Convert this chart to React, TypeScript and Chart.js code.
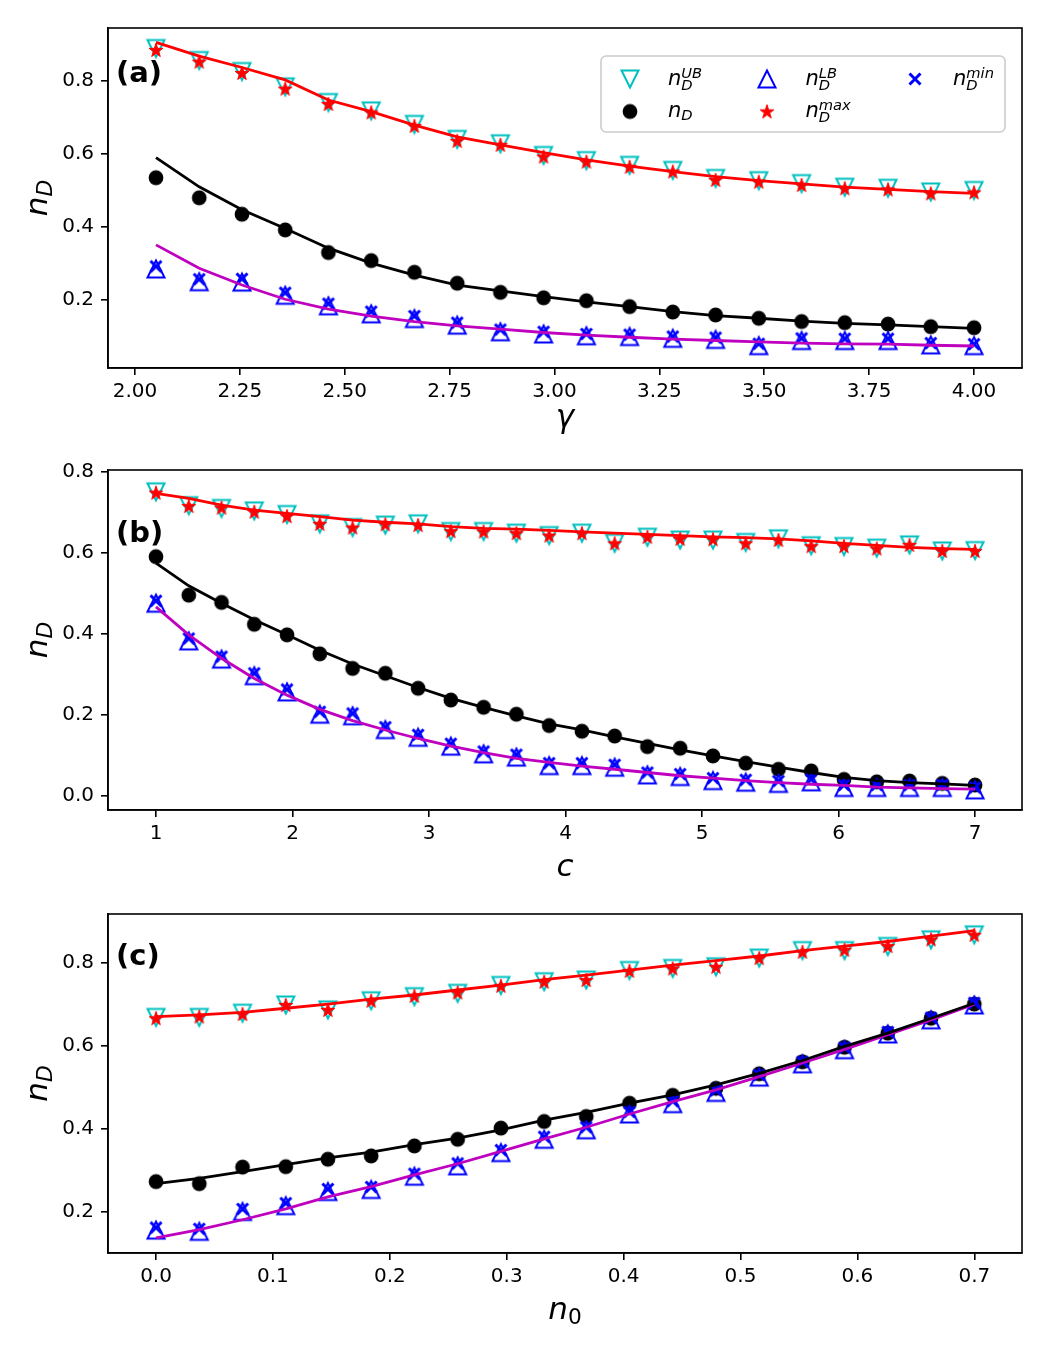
import React, { useEffect, useRef } from 'react';
import { Chart, registerables } from 'chart.js';

Chart.register(...registerables);

const FONT = '"DejaVu Sans", sans-serif';

// ---------- Panel (a): x = gamma ----------
const gammaVals = [2.050, 2.153, 2.255, 2.358, 2.461, 2.563, 2.666, 2.768, 2.871, 2.974, 3.076, 3.179, 3.282, 3.384, 3.487, 3.589, 3.692, 3.795, 3.897, 4.000];
const aUB = [0.889, 0.856, 0.826, 0.784, 0.741, 0.718, 0.681, 0.640, 0.628, 0.596, 0.582, 0.569, 0.555, 0.533, 0.527, 0.519, 0.509, 0.506, 0.496, 0.500];
const aND = [0.535, 0.480, 0.435, 0.392, 0.330, 0.308, 0.276, 0.246, 0.221, 0.206, 0.198, 0.182, 0.167, 0.159, 0.150, 0.141, 0.138, 0.134, 0.127, 0.124];
const aLB = [0.285, 0.250, 0.249, 0.213, 0.184, 0.162, 0.149, 0.131, 0.113, 0.107, 0.102, 0.100, 0.095, 0.092, 0.075, 0.089, 0.089, 0.089, 0.077, 0.075];
const aMax = [0.885, 0.853, 0.822, 0.779, 0.737, 0.714, 0.677, 0.636, 0.625, 0.593, 0.579, 0.565, 0.552, 0.529, 0.524, 0.515, 0.506, 0.503, 0.492, 0.495];
const aMin = [0.292, 0.257, 0.258, 0.220, 0.190, 0.168, 0.156, 0.138, 0.119, 0.113, 0.107, 0.105, 0.100, 0.097, 0.080, 0.095, 0.094, 0.094, 0.082, 0.079];
const aLineMax = [0.906, 0.868, 0.837, 0.803, 0.748, 0.716, 0.679, 0.647, 0.625, 0.604, 0.584, 0.567, 0.552, 0.538, 0.527, 0.518, 0.509, 0.503, 0.497, 0.492];
const aLineND = [0.590, 0.510, 0.447, 0.396, 0.342, 0.301, 0.268, 0.241, 0.225, 0.209, 0.195, 0.182, 0.168, 0.157, 0.150, 0.142, 0.136, 0.132, 0.127, 0.122];
const aLineMin = [0.351, 0.287, 0.241, 0.202, 0.175, 0.156, 0.141, 0.129, 0.120, 0.111, 0.104, 0.098, 0.093, 0.089, 0.085, 0.082, 0.080, 0.079, 0.076, 0.074];
const aXTicks = [2.0, 2.25, 2.5, 2.75, 3.0, 3.25, 3.5, 3.75, 4.0];
const aYTicks = [0.2, 0.4, 0.6, 0.8];

// ---------- Panel (b): x = c ----------
const cVals = [1.00, 1.24, 1.48, 1.72, 1.96, 2.20, 2.44, 2.68, 2.92, 3.16, 3.40, 3.64, 3.88, 4.12, 4.36, 4.60, 4.84, 5.08, 5.32, 5.56, 5.80, 6.04, 6.28, 6.52, 6.76, 7.00];
const bUB = [0.751, 0.717, 0.710, 0.704, 0.695, 0.672, 0.663, 0.669, 0.672, 0.653, 0.653, 0.649, 0.643, 0.649, 0.624, 0.639, 0.632, 0.632, 0.626, 0.635, 0.618, 0.616, 0.612, 0.620, 0.605, 0.606];
const bND = [0.591, 0.496, 0.478, 0.424, 0.398, 0.351, 0.315, 0.303, 0.266, 0.237, 0.219, 0.202, 0.174, 0.160, 0.148, 0.122, 0.118, 0.099, 0.081, 0.066, 0.062, 0.041, 0.035, 0.037, 0.031, 0.027];
const bLB = [0.476, 0.383, 0.338, 0.297, 0.257, 0.202, 0.198, 0.164, 0.145, 0.123, 0.104, 0.096, 0.075, 0.075, 0.071, 0.052, 0.048, 0.038, 0.034, 0.031, 0.035, 0.021, 0.021, 0.021, 0.021, 0.015];
const bMax = [0.749, 0.716, 0.712, 0.702, 0.691, 0.672, 0.663, 0.671, 0.669, 0.654, 0.653, 0.649, 0.643, 0.649, 0.624, 0.640, 0.635, 0.634, 0.624, 0.632, 0.617, 0.617, 0.611, 0.620, 0.605, 0.605];
const bMin = [0.482, 0.389, 0.344, 0.303, 0.263, 0.208, 0.204, 0.170, 0.151, 0.129, 0.110, 0.102, 0.081, 0.081, 0.077, 0.058, 0.054, 0.044, 0.040, 0.037, 0.041, 0.027, 0.027, 0.027, 0.027, 0.021];
const bLineMax = [0.747, 0.735, 0.718, 0.706, 0.698, 0.690, 0.681, 0.676, 0.672, 0.665, 0.661, 0.659, 0.656, 0.652, 0.649, 0.646, 0.643, 0.640, 0.638, 0.635, 0.630, 0.624, 0.619, 0.614, 0.611, 0.609];
const bLineND = [0.575, 0.519, 0.476, 0.435, 0.398, 0.360, 0.326, 0.297, 0.268, 0.241, 0.219, 0.198, 0.178, 0.163, 0.146, 0.130, 0.114, 0.099, 0.085, 0.071, 0.058, 0.046, 0.038, 0.033, 0.030, 0.026];
const bLineMin = [0.467, 0.398, 0.340, 0.290, 0.249, 0.214, 0.186, 0.163, 0.142, 0.123, 0.107, 0.093, 0.083, 0.074, 0.066, 0.058, 0.050, 0.044, 0.038, 0.033, 0.029, 0.026, 0.022, 0.020, 0.018, 0.017];
const bXTicks = [1, 2, 3, 4, 5, 6, 7];
const bYTicks = [0.0, 0.2, 0.4, 0.6, 0.8];

// ---------- Panel (c): x = n0 ----------
const n0Vals = [0.000, 0.037, 0.074, 0.111, 0.147, 0.184, 0.221, 0.258, 0.295, 0.332, 0.368, 0.405, 0.442, 0.479, 0.516, 0.553, 0.589, 0.626, 0.663, 0.700];
const cUB = [0.668, 0.668, 0.678, 0.698, 0.686, 0.708, 0.718, 0.726, 0.745, 0.754, 0.758, 0.781, 0.786, 0.790, 0.811, 0.829, 0.829, 0.839, 0.855, 0.867];
const cND = [0.272, 0.267, 0.307, 0.308, 0.326, 0.334, 0.358, 0.374, 0.401, 0.417, 0.429, 0.461, 0.480, 0.497, 0.532, 0.561, 0.596, 0.630, 0.666, 0.700];
const cLB = [0.155, 0.152, 0.200, 0.214, 0.248, 0.253, 0.285, 0.310, 0.342, 0.374, 0.397, 0.435, 0.460, 0.487, 0.524, 0.556, 0.590, 0.628, 0.662, 0.698];
const cMax = [0.666, 0.670, 0.676, 0.698, 0.686, 0.708, 0.720, 0.728, 0.744, 0.754, 0.758, 0.780, 0.786, 0.790, 0.811, 0.826, 0.831, 0.840, 0.856, 0.867];
const cMin = [0.161, 0.158, 0.206, 0.220, 0.254, 0.259, 0.291, 0.316, 0.348, 0.380, 0.403, 0.440, 0.466, 0.492, 0.529, 0.561, 0.595, 0.633, 0.667, 0.703];
const cLineMax = [0.670, 0.674, 0.680, 0.690, 0.700, 0.712, 0.722, 0.734, 0.746, 0.759, 0.770, 0.782, 0.794, 0.805, 0.816, 0.829, 0.840, 0.851, 0.864, 0.877];
const cLineND = [0.267, 0.280, 0.296, 0.313, 0.329, 0.343, 0.361, 0.377, 0.397, 0.420, 0.439, 0.461, 0.481, 0.505, 0.533, 0.564, 0.598, 0.630, 0.666, 0.702];
const cLineMin = [0.136, 0.156, 0.180, 0.206, 0.235, 0.260, 0.288, 0.315, 0.345, 0.375, 0.403, 0.435, 0.465, 0.493, 0.525, 0.558, 0.591, 0.626, 0.662, 0.700];
const cXTicks = [0.0, 0.1, 0.2, 0.3, 0.4, 0.5, 0.6, 0.7];
const cYTicks = [0.2, 0.4, 0.6, 0.8];

// legend entries (column-major like matplotlib ncol=3)
const legendSubs = ['D', 'D', 'D', 'D', 'D'];
const legendSups = ['UB', 'LB', 'min', '', 'max'];
const legendKinds = ['tdown', 'tup', 'x', 'circle', 'star'];

type Markers = Record<string, HTMLCanvasElement>;

function makeMarkers(): Markers {
  const mk = (w: number, h: number, draw: (ctx: CanvasRenderingContext2D, cx: number, cy: number) => void) => {
    const c = document.createElement('canvas');
    c.width = w; c.height = h;
    const ctx = c.getContext('2d')!;
    draw(ctx, w / 2, h / 2);
    return c;
  };
  const tdown = mk(24, 24, (ctx, cx, cy) => {
    ctx.strokeStyle = '#00bfbf'; ctx.lineWidth = 2; ctx.lineJoin = 'miter';
    ctx.beginPath();
    ctx.moveTo(cx - 8.5, cy - 8.5); ctx.lineTo(cx + 8.5, cy - 8.5); ctx.lineTo(cx, cy + 8.5); ctx.closePath();
    ctx.stroke();
  });
  const tup = mk(24, 24, (ctx, cx, cy) => {
    ctx.strokeStyle = '#0000ff'; ctx.lineWidth = 2; ctx.lineJoin = 'miter';
    ctx.beginPath();
    ctx.moveTo(cx - 8.5, cy + 8.5); ctx.lineTo(cx + 8.5, cy + 8.5); ctx.lineTo(cx, cy - 8.5); ctx.closePath();
    ctx.stroke();
  });
  const star = mk(22, 22, (ctx, cx, cy) => {
    ctx.fillStyle = '#ff0000'; ctx.strokeStyle = '#ff0000'; ctx.lineWidth = 1;
    const R = 7.3, r = R * 0.381966;
    ctx.beginPath();
    for (let i = 0; i < 10; i++) {
      const ang = -Math.PI / 2 + i * Math.PI / 5;
      const rr = i % 2 === 0 ? R : r;
      const px = cx + rr * Math.cos(ang), py = cy + 0.6 + rr * Math.sin(ang);
      if (i === 0) ctx.moveTo(px, py); else ctx.lineTo(px, py);
    }
    ctx.closePath(); ctx.fill(); ctx.stroke();
  });
  const x = mk(20, 20, (ctx, cx, cy) => {
    ctx.strokeStyle = '#0000ff'; ctx.lineWidth = 3; ctx.lineCap = 'butt';
    ctx.beginPath();
    ctx.moveTo(cx - 5.5, cy - 5.5); ctx.lineTo(cx + 5.5, cy + 5.5);
    ctx.moveTo(cx + 5.5, cy - 5.5); ctx.lineTo(cx - 5.5, cy + 5.5);
    ctx.stroke();
  });
  const circle = mk(18, 18, (ctx, cx, cy) => {
    ctx.fillStyle = '#000000';
    ctx.beginPath(); ctx.arc(cx, cy, 7.4, 0, Math.PI * 2); ctx.fill();
  });
  return { tdown, tup, star, x, circle };
}

function drawMath(ctx: CanvasRenderingContext2D, x: number, y: number, main: string, sub: string, sup: string, fs: number, subUpright = false, measureOnly = false): number {
  ctx.font = `italic ${fs}px ${FONT}`;
  const w = ctx.measureText(main).width;
  if (!measureOnly) ctx.fillText(main, x, y);
  const sfs = fs * 0.7;
  let w2 = 0;
  if (sub) {
    ctx.font = `${subUpright ? '' : 'italic '}${sfs}px ${FONT}`;
    const off = sup ? fs * 0.24 : fs * 0.17;
    if (!measureOnly) ctx.fillText(sub, x + w, y + off);
    w2 = Math.max(w2, ctx.measureText(sub).width);
  }
  if (sup) {
    ctx.font = `italic ${sfs}px ${FONT}`;
    if (!measureOnly) ctx.fillText(sup, x + w, y - fs * 0.32);
    w2 = Math.max(w2, ctx.measureText(sup).width);
  }
  return w + w2;
}

interface Panel {
  key: string;
  height: number;
  top: number;
  xs: number[];
  ub: number[]; nd: number[]; lb: number[]; mx: number[]; mn: number[];
  lMax: number[]; lND: number[]; lMin: number[];
  xMin: number; xMax: number; yMin: number; yMax: number;
  xTicks: number[]; yTicks: number[]; xDec: number;
  label: string; labelBaseline: number;
  xTitle: string; xTitleSub: string; xTitleBaseline: number;
  legend: boolean;
}

const panels: Panel[] = [
  {
    key: 'a', height: 450, top: 28, xs: gammaVals,
    ub: aUB, nd: aND, lb: aLB, mx: aMax, mn: aMin, lMax: aLineMax, lND: aLineND, lMin: aLineMin,
    xMin: 1.9356, xMax: 4.1144, yMin: 0.0137, yMax: 0.9452,
    xTicks: aXTicks, yTicks: aYTicks, xDec: 2,
    label: '(a)', labelBaseline: 81.5, xTitle: 'γ', xTitleSub: '', xTitleBaseline: 427, legend: true,
  },
  {
    key: 'b', height: 440, top: 20, xs: cVals,
    ub: bUB, nd: bND, lb: bLB, mx: bMax, mn: bMin, lMax: bLineMax, lND: bLineND, lMin: bLineMin,
    xMin: 0.6484, xMax: 7.344, yMin: -0.0346, yMax: 0.805,
    xTicks: bXTicks, yTicks: bYTicks, xDec: 0,
    label: '(b)', labelBaseline: 91.5, xTitle: 'c', xTitleSub: '', xTitleBaseline: 426, legend: false,
  },
  {
    key: 'c', height: 460, top: 24, xs: n0Vals,
    ub: cUB, nd: cND, lb: cLB, mx: cMax, mn: cMin, lMax: cLineMax, lND: cLineND, lMin: cLineMin,
    xMin: -0.0411, xMax: 0.7408, yMin: 0.0998, yMax: 0.9173,
    xTicks: cXTicks, yTicks: cYTicks, xDec: 1,
    label: '(c)', labelBaseline: 75, xTitle: 'n', xTitleSub: '0', xTitleBaseline: 429, legend: false,
  },
];

const AREA_BOTTOM: Record<string, number> = { a: 368, b: 360, c: 363 };

function pts(xs: number[], ys: number[]) {
  return xs.map((x, i) => ({ x, y: ys[i] }));
}

function buildConfig(p: Panel, m: Markers): any {
  const lineDs = (ys: number[], color: string) => ({
    data: pts(p.xs, ys), showLine: true, borderColor: color, borderWidth: 2.8,
    pointRadius: 0, pointHoverRadius: 0, tension: 0, fill: false, order: 0,
  });
  const ptDs = (ys: number[], style: HTMLCanvasElement, order: number) => ({
    data: pts(p.xs, ys), showLine: false, pointStyle: style, pointRadius: 8,
    pointHoverRadius: 8, order,
  });
  const textPlugin = {
    id: 'txt' + p.key,
    afterDraw(chart: any) {
      const ctx: CanvasRenderingContext2D = chart.ctx;
      const a = chart.chartArea;
      ctx.save();
      ctx.strokeStyle = '#000'; ctx.lineWidth = 1.6;
      ctx.strokeRect(a.left, a.top, a.right - a.left, a.bottom - a.top);
      ctx.fillStyle = '#000';
      ctx.textAlign = 'left'; ctx.textBaseline = 'alphabetic';
      ctx.font = `bold 29px ${FONT}`;
      ctx.fillText(p.label, 116, p.labelBaseline);
      // x title
      const cx = (a.left + a.right) / 2;
      const wx = drawMath(ctx, 0, 0, p.xTitle, p.xTitleSub, '', 31, true, true);
      drawMath(ctx, cx - wx / 2, p.xTitleBaseline, p.xTitle, p.xTitleSub, '', 31, true);
      // y title
      const cy = (a.top + a.bottom) / 2;
      ctx.save();
      ctx.translate(47, cy);
      ctx.rotate(-Math.PI / 2);
      const wy = drawMath(ctx, 0, 0, 'n', 'D', '', 31, false, true);
      drawMath(ctx, -wy / 2, 0, 'n', 'D', '', 31, false);
      ctx.restore();
      if (p.legend) {
        ctx.beginPath();
        (ctx as any).roundRect(601, 56, 404, 76, 5);
        ctx.fillStyle = 'rgba(255,255,255,0.8)';
        ctx.fill();
        ctx.strokeStyle = '#cccccc'; ctx.lineWidth = 1.6;
        ctx.stroke();
        const colMx = [630, 767, 915];
        const colTx = [668, 805.5, 953];
        const rowMy = [79, 111.5];
        const rowTy = [85, 116.5];
        ctx.fillStyle = '#000';
        for (let i = 0; i < legendKinds.length; i++) {
          const col = i < 3 ? i : i - 3;
          const row = i < 3 ? 0 : 1;
          const img = m[legendKinds[i]];
          ctx.drawImage(img, colMx[col] - img.width / 2, rowMy[row] - img.height / 2);
          drawMath(ctx, colTx[col], rowTy[row], 'n', legendSubs[i], legendSups[i], 21);
        }
      }
      ctx.restore();
    },
  };
  const bottomH = p.height - AREA_BOTTOM[p.key];
  return {
    type: 'scatter',
    data: {
      datasets: [
        lineDs(p.lMax, '#ff0000'),
        lineDs(p.lND, '#000000'),
        lineDs(p.lMin, '#bf00bf'),
        ptDs(p.mn, m.x, 1),
        ptDs(p.mx, m.star, 2),
        ptDs(p.lb, m.tup, 3),
        ptDs(p.nd, m.circle, 4),
        ptDs(p.ub, m.tdown, 5),
      ],
    },
    options: {
      animation: false,
      responsive: false,
      maintainAspectRatio: false,
      devicePixelRatio: 1,
      events: [],
      layout: { padding: { top: p.top, right: 28, left: 0, bottom: 0 } },
      plugins: { legend: { display: false }, tooltip: { enabled: false }, title: { display: false } },
      scales: {
        x: {
          type: 'linear', min: p.xMin, max: p.xMax,
          afterBuildTicks: (s: any) => { s.ticks = p.xTicks.map((v) => ({ value: v })); },
          afterFit: (s: any) => { s.height = bottomH; },
          ticks: {
            autoSkip: false, maxRotation: 0, minRotation: 0, padding: 5, color: '#000',
            font: { family: FONT, size: 20 },
            callback: (v: any) => Number(v).toFixed(p.xDec),
          },
          grid: { drawOnChartArea: false, drawTicks: true, tickLength: 7, color: '#000', lineWidth: 1.6 },
          border: { display: true, color: '#000', width: 1.6 },
        },
        y: {
          type: 'linear', min: p.yMin, max: p.yMax,
          afterBuildTicks: (s: any) => { s.ticks = p.yTicks.map((v) => ({ value: v })); },
          afterFit: (s: any) => { s.width = 108; },
          ticks: {
            autoSkip: false, padding: 7, color: '#000',
            font: { family: FONT, size: 20 },
            callback: (v: any) => Number(v).toFixed(1),
          },
          grid: { drawOnChartArea: false, drawTicks: true, tickLength: 7, color: '#000', lineWidth: 1.6 },
          border: { display: true, color: '#000', width: 1.6 },
        },
      },
    },
    plugins: [textPlugin],
  };
}

export default function App() {
  const r0 = useRef<HTMLCanvasElement>(null);
  const r1 = useRef<HTMLCanvasElement>(null);
  const r2 = useRef<HTMLCanvasElement>(null);
  useEffect(() => {
    const markers = makeMarkers();
    const refs = [r0, r1, r2];
    const charts = panels.map((p, i) => new Chart(refs[i].current as HTMLCanvasElement, buildConfig(p, markers)));
    return () => charts.forEach((c) => c.destroy());
  }, []);
  const tops = [0, 450, 890];
  const refs = [r0, r1, r2];
  return (
    <div style={{ position: 'absolute', left: 0, top: 0, width: 1050, height: 1350, background: '#ffffff' }}>
      {panels.map((p, i) => (
        <canvas
          key={p.key}
          ref={refs[i]}
          width={1050}
          height={p.height}
          style={{ position: 'absolute', left: 0, top: tops[i], width: 1050, height: p.height }}
        />
      ))}
    </div>
  );
}
